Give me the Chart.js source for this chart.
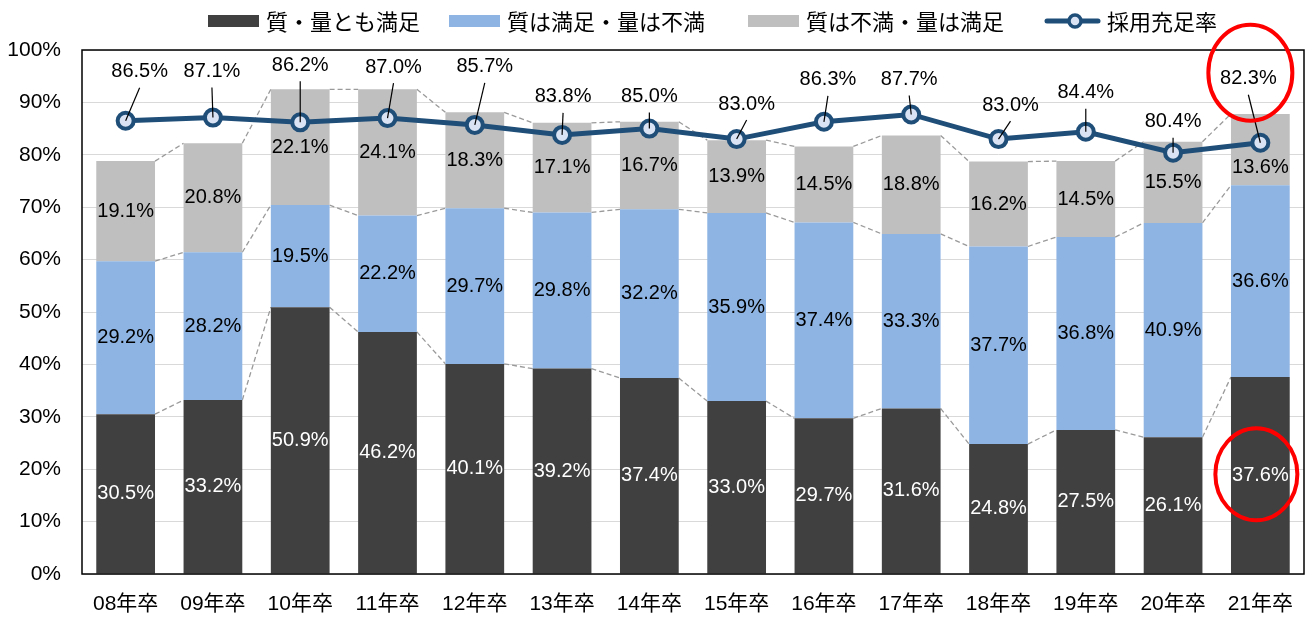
<!DOCTYPE html>
<html><head><meta charset="utf-8">
<script src="https://cdn.jsdelivr.net/npm/chart.js@4"></script>
<style>html,body{margin:0;padding:0;background:#fff}#wrap{width:1316px;height:619px}</style>
</head><body><div id="wrap"><canvas id="c" width="1316" height="619"></canvas></div>
<script>
// ---- data ----
const categories = ['08年卒','09年卒','10年卒','11年卒','12年卒','13年卒','14年卒','15年卒','16年卒','17年卒','18年卒','19年卒','20年卒','21年卒'];
const bothSatisfied = [30.5,33.2,50.9,46.2,40.1,39.2,37.4,33.0,29.7,31.6,24.8,27.5,26.1,37.6];
const qualityOnly   = [29.2,28.2,19.5,22.2,29.7,29.8,32.2,35.9,37.4,33.3,37.7,36.8,40.9,36.6];
const quantityOnly  = [19.1,20.8,22.1,24.1,18.3,17.1,16.7,13.9,14.5,18.8,16.2,14.5,15.5,13.6];
const fillRate      = [86.5,87.1,86.2,87.0,85.7,83.8,85.0,83.0,86.3,87.7,83.0,84.4,80.4,82.3];
const seriesNames = ['質・量とも満足','質は満足・量は不満','質は不満・量は満足','採用充足率'];
const yTickValues = [0,10,20,30,40,50,60,70,80,90,100];

// ---- styles ----
const C_DARK = '#404040', C_BLUE = '#8EB4E3', C_GRAY = '#BFBFBF', C_LINE = '#1F4E79', C_MARK = '#DAE3F3';
const NUM_FONT = 'Liberation Sans, Arial, sans-serif';
const JP_FONT = '"Noto Sans CJK JP", sans-serif';
// label placement (pixel offsets from the point), layout only
const lineLabelOffset = [[14,-49],[-1,-46],[0,-57],[6,-51],[10,-58],[1,-38],[0,-32],[10,-35],[4,-42],[-2,-35],[12,-34],[0,-39],[0,-31],[-12,-64]];
const segLabelNudge = {2:{13:18}};
const legendOffsets = [126, 367, 666, 963];

const overlay = {
  id: 'overlay',
  beforeDatasetsDraw(chart) {
    const ctx = chart.ctx;
    ctx.save();
    ctx.strokeStyle = '#9A9A9A';
    ctx.lineWidth = 1.3;
    ctx.setLineDash([5,3]);
    for (let d = 0; d < 3; d++) {
      const els = chart.getDatasetMeta(d).data;
      for (let i = 0; i < els.length - 1; i++) {
        const a = els[i], b = els[i+1];
        ctx.beginPath();
        ctx.moveTo(a.x + a.width/2, a.y);
        ctx.lineTo(b.x - b.width/2, b.y);
        ctx.stroke();
      }
    }
    ctx.restore();
  },
  afterDatasetsDraw(chart) {
    const ctx = chart.ctx, ca = chart.chartArea;
    ctx.save();
    // plot border
    ctx.strokeStyle = '#000';
    ctx.lineWidth = 1.5;
    ctx.strokeRect(ca.left, ca.top, ca.right - ca.left, ca.bottom - ca.top);
    // segment labels
    ctx.font = '20px ' + NUM_FONT;
    ctx.textAlign = 'center';
    ctx.textBaseline = 'middle';
    const segCenters = [];
    for (let d = 0; d < 3; d++) {
      const els = chart.getDatasetMeta(d).data;
      const vals = chart.data.datasets[d].data;
      segCenters[d] = [];
      els.forEach((el, i) => {
        const nudge = (segLabelNudge[d] && segLabelNudge[d][i]) || 0;
        const cy = (el.y + el.base) / 2 + nudge;
        segCenters[d][i] = [el.x, cy];
        ctx.fillStyle = d === 0 ? '#fff' : '#000';
        ctx.fillText(vals[i].toFixed(1) + '%', el.x, cy);
      });
    }
    // line labels with leaders
    const lels = chart.getDatasetMeta(3).data;
    const lineCenters = [];
    lels.forEach((p, i) => {
      const lx = p.x + lineLabelOffset[i][0], ly = p.y + lineLabelOffset[i][1];
      lineCenters[i] = [lx, ly];
      ctx.strokeStyle = '#000';
      ctx.lineWidth = 1.2;
      ctx.beginPath();
      ctx.moveTo(lx, ly + 16);
      ctx.lineTo(p.x, p.y);
      ctx.stroke();
      ctx.fillStyle = '#000';
      ctx.fillText(fillRate[i].toFixed(1) + '%', lx, ly);
    });
    // red emphasis ellipses on the last year
    const last = categories.length - 1;
    ctx.strokeStyle = '#FF0000';
    ctx.lineWidth = 4;
    ctx.beginPath();
    ctx.ellipse(lineCenters[last][0] + 2, lineCenters[last][1] - 6, 42, 48, 0, 0, Math.PI * 2);
    ctx.stroke();
    ctx.beginPath();
    ctx.ellipse(segCenters[0][last][0] - 4, segCenters[0][last][1] - 1, 41, 46, 0, 0, Math.PI * 2);
    ctx.stroke();
    ctx.restore();
  },
  afterDraw(chart) {
    const ctx = chart.ctx, ca = chart.chartArea;
    ctx.save();
    const cy = 21;
    const colors = [C_DARK, C_BLUE, C_GRAY];
    ctx.font = '22px ' + JP_FONT;
    ctx.textBaseline = 'middle';
    ctx.textAlign = 'left';
    ctx.fillStyle = '#000';
    for (let k = 0; k < 4; k++) {
      const x0 = ca.left + legendOffsets[k];
      if (k < 3) {
        ctx.fillStyle = colors[k];
        ctx.fillRect(x0, cy - 6, 51, 12);
        ctx.fillStyle = '#000';
        ctx.fillText(seriesNames[k], x0 + 58, cy + 1);
      } else {
        ctx.strokeStyle = C_LINE;
        ctx.lineWidth = 5;
        ctx.lineCap = 'round';
        ctx.beginPath();
        ctx.moveTo(x0 + 2, cy);
        ctx.lineTo(x0 + 53, cy);
        ctx.stroke();
        ctx.beginPath();
        ctx.arc(x0 + 30, cy, 6, 0, Math.PI * 2);
        ctx.fillStyle = C_MARK;
        ctx.fill();
        ctx.lineWidth = 3.5;
        ctx.stroke();
        ctx.fillStyle = '#000';
        ctx.fillText(seriesNames[k], x0 + 62, cy + 1);
      }
    }
    ctx.restore();
  }
};

new Chart(document.getElementById('c'), {
  data: {
    labels: categories,
    datasets: [
      { type: 'bar', label: seriesNames[0], data: bothSatisfied, backgroundColor: C_DARK, stack: 'bars', order: 1, categoryPercentage: 1, barPercentage: 0.673 },
      { type: 'bar', label: seriesNames[1], data: qualityOnly, backgroundColor: C_BLUE, stack: 'bars', order: 1, categoryPercentage: 1, barPercentage: 0.673 },
      { type: 'bar', label: seriesNames[2], data: quantityOnly, backgroundColor: C_GRAY, stack: 'bars', order: 1, categoryPercentage: 1, barPercentage: 0.673 },
      { type: 'line', label: seriesNames[3], data: fillRate, stack: 'line', order: 0,
        borderColor: C_LINE, borderWidth: 5, tension: 0,
        pointRadius: 8, pointBorderWidth: 4, pointBackgroundColor: C_MARK, pointBorderColor: C_LINE }
    ]
  },
  options: {
    responsive: false,
    animation: false,
    devicePixelRatio: 1,
    layout: { padding: { top: 50, right: 6, left: 0, bottom: 0 } },
    plugins: { legend: { display: false }, tooltip: { enabled: false } },
    scales: {
      x: {
        stacked: true,
        grid: { display: false, drawTicks: false },
        border: { display: false },
        ticks: { color: '#000', font: { size: 21, family: 'Liberation Sans, "Noto Sans CJK JP", sans-serif' }, padding: 18, maxRotation: 0 },
        afterFit(s) { s.height = 45; }
      },
      y: {
        stacked: true,
        min: 0, max: 100,
        afterBuildTicks(s) { s.ticks = yTickValues.map(v => ({ value: v })); },
        grid: { color: '#D9D9D9', lineWidth: 1, drawTicks: false },
        border: { display: false },
        ticks: { color: '#000', font: { size: 21, family: NUM_FONT }, padding: 21, callback: v => v + '%' },
        afterFit(s) { s.width = 82; }
      }
    }
  },
  plugins: [overlay]
});
</script>
</body></html>
